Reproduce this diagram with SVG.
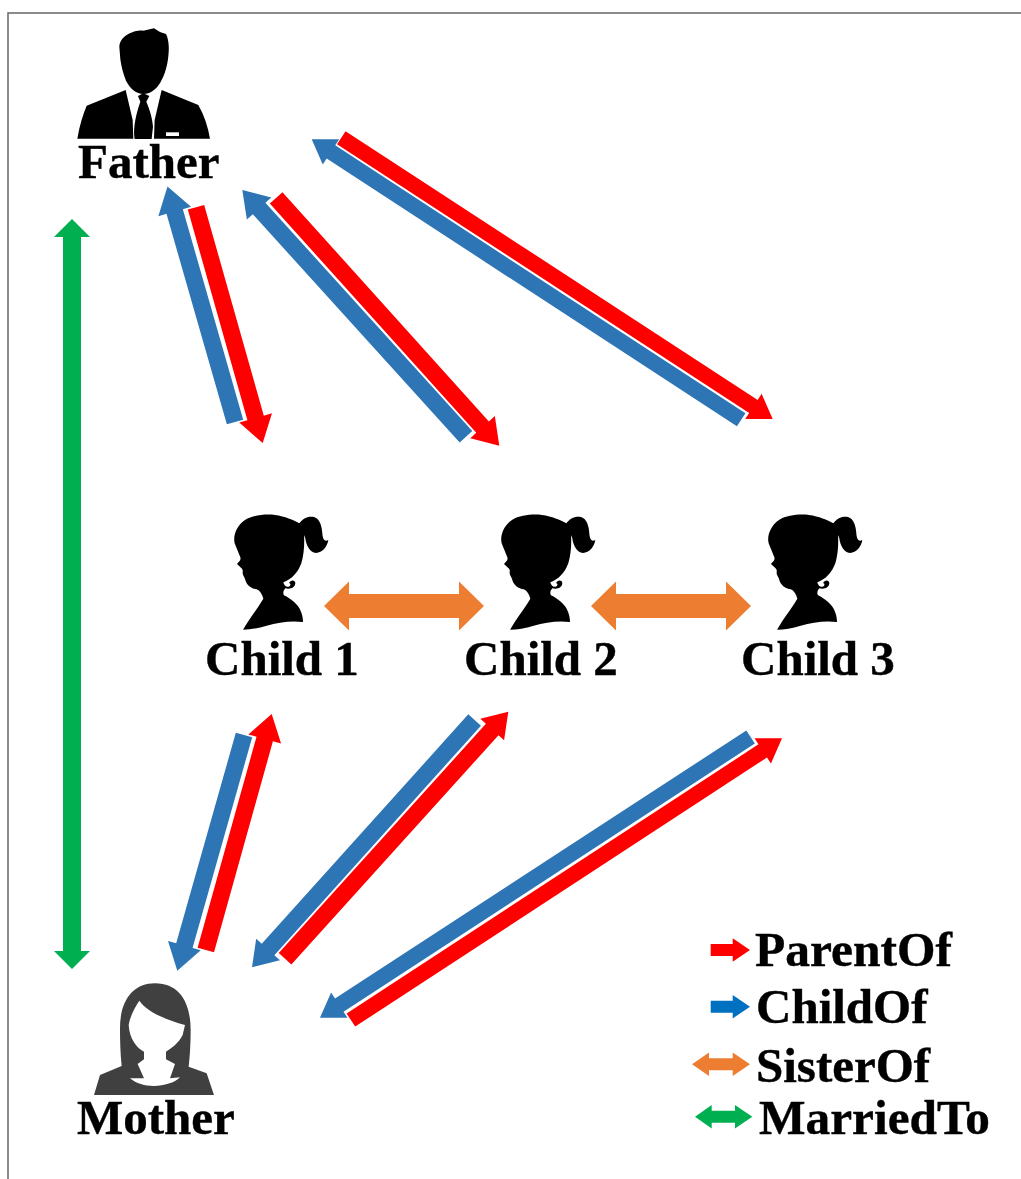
<svg xmlns="http://www.w3.org/2000/svg" xmlns:xlink="http://www.w3.org/1999/xlink" width="1021" height="1179" viewBox="0 0 1021 1179">
<style>
text{font-family:"Liberation Serif","Times New Roman",serif;font-weight:700;font-size:49px;fill:#000;stroke:#000;stroke-width:.4}
.red{fill:#f00}.blue{fill:#2e75b6}.orange{fill:#ed7d31}.green{fill:#00b050}.lblue{fill:#0070c0}
</style>
<defs>
<g id="girl">
<path fill="#000" d="M130,388 C145,360 170,330 190,296 C186,282 180,272 170,268 C155,266 140,256 136,240 C134,230 127,226 128,216 C130,208 124,204 120,200 L111,192 C117,185 124,180 121,172 C116,160 110,145 104,130 C98,105 112,75 135,60 C160,44 200,42 225,45 C255,49 280,60 298,70 C308,55 325,47 342,51 C360,56 366,80 367,100 C368,115 372,127 385,120 C382,140 367,158 348,159 C330,158 318,135 316,115 L312,105 C314,130 312,165 304,190 C294,218 275,238 250,247 C252,256 258,262 266,260 C274,258 272,248 267,250 C272,238 286,240 286,250 C285,264 270,269 256,265 C250,272 248,280 252,286 C272,296 296,314 303,335 C307,345 309,355 309,366 C270,361 235,368 200,377 C175,385 150,389 130,389 Z"/>
</g>
</defs>
<g id="frame"><path d="M8,1179 V13 H1021" fill="none" stroke="#666" stroke-width="1.5"/></g>
<g id="connectors">
<polygon class="blue" transform="translate(167.5,186.5) rotate(-106)" points="-245,-8.5 -26,-8.5 -26,-17 0,0 -26,17 -26,8.5 -245,8.5"/>
<polygon class="red" transform="translate(262.7,443) rotate(74.2)" points="-245,-8.5 -26,-8.5 -26,-17 0,0 -26,17 -26,8.5 -245,8.5"/>
<polygon class="blue" transform="translate(242.3,190) rotate(-132.2)" points="-333,-8.5 -25,-8.5 -25,-16.5 0,0 -25,16.5 -25,8.5 -333,8.5"/>
<polygon class="red" transform="translate(499.3,445.7) rotate(48)" points="-333.5,-8.5 -25,-8.5 -25,-16.5 0,0 -25,16.5 -25,8.5 -333.5,8.5"/>
<polygon class="blue" transform="translate(311.7,139.3) rotate(-146.85)" points="-513,-7.8 -23,-7.8 -23,-15 0,0 -23,15 -23,7.8 -513,7.8"/>
<polygon class="red" transform="translate(772.7,419) rotate(33.1)" points="-515,-7.8 -23,-7.8 -23,-15 0,0 -23,15 -23,7.8 -515,7.8"/>
<polygon class="red" transform="translate(271.7,714) rotate(-74.4)" points="-245,-8.5 -26,-8.5 -26,-17 0,0 -26,17 -26,8.5 -245,8.5"/>
<polygon class="blue" transform="translate(177.3,970.7) rotate(105.8)" points="-245,-8.5 -26,-8.5 -26,-17 0,0 -26,17 -26,8.5 -245,8.5"/>
<polygon class="red" transform="translate(508.3,711.7) rotate(-47.9)" points="-333,-8.5 -24,-8.5 -24,-16 0,0 -24,16 -24,8.5 -333,8.5"/>
<polygon class="blue" transform="translate(252,967.3) rotate(132)" points="-332.7,-8.5 -24,-8.5 -24,-16 0,0 -24,16 -24,8.5 -332.7,8.5"/>
<polygon class="red" transform="translate(782,738.3) rotate(-33.17)" points="-515,-7.8 -23,-7.8 -23,-15 0,0 -23,15 -23,7.8 -515,7.8"/>
<polygon class="blue" transform="translate(320,1017.7) rotate(146.9)" points="-514,-7.8 -23,-7.8 -23,-15 0,0 -23,15 -23,7.8 -514,7.8"/>
<polygon class="green" points="72,219 90,237 81,237 81,951 90,951 72,969 54,951 63,951 63,237 54,237"/>
<polygon class="orange" points="324,606 349,581.5 349,594 459,594 459,581.5 484,606 459,630.5 459,618 349,618 349,630.5"/>
<polygon class="orange" points="591,606 616,581.5 616,594 726,594 726,581.5 751,606 726,630.5 726,618 616,618 616,630.5"/>
</g>
<g id="father">
<g transform="translate(60,10) scale(.3333)">
<path fill="#000" d="M178,110 C180,78 220,60 250,62 L282,55 L300,66 L318,72 C328,92 328,120 324,148 C320,175 314,195 302,216 C290,238 270,252 250,252 C230,252 210,236 198,212 C190,192 184,170 181,148 Z"/>
<path fill="#000" d="M52,386 C58,350 68,315 80,287 L197,240 L218,330 L220,386 Z"/>
<path fill="#000" d="M305,240 L415,285 C432,315 444,350 450,386 L282,386 L284,330 Z"/>
<path fill="#000" d="M234,258 L250,250 L268,258 L259,275 C270,300 278,330 279,350 L275,387 L224,387 C220,365 222,330 241,275 Z"/>
<rect x="318" y="367" width="39" height="11" fill="#fff"/>
</g>
<text x="78" y="178">Father</text>
</g>
<g id="child1">
<use xlink:href="#girl" href="#girl" transform="translate(200,500) scale(.3333)"/>
<text x="205" y="675">Child 1</text>
</g>
<g id="child2">
<use xlink:href="#girl" href="#girl" transform="translate(467,500) scale(.3333)"/>
<text x="464" y="675">Child 2</text>
</g>
<g id="child3">
<use xlink:href="#girl" href="#girl" transform="translate(734,500) scale(.3333)"/>
<text x="741" y="675">Child 3</text>
</g>
<g id="mother">
<g transform="translate(70,970) scale(.3333)">
<path fill="#404040" d="M150,175 C150,90 190,40 255,40 C330,40 362,100 362,180 C362,220 360,260 356,290 L410,310 L432,375 L72,375 L90,315 L155,288 C151,250 150,210 150,175 Z"/>
<path fill="#fff" d="M208,92 C230,125 290,150 345,165 L338,195 C325,220 305,235 288,245 L288,268 L315,282 L300,325 L330,322 C300,352 220,360 180,325 L222,325 L203,282 L222,268 L222,245 C200,235 178,205 176,165 C180,140 195,110 208,92 Z"/>
</g>
<text x="77" y="1134">Mother</text>
</g>
<g id="legend">
<polygon class="red" points="710.7,944 732.7,944 732.7,938.3 750,950 732.7,961.7 732.7,956 710.7,956"/>
<text x="755" y="966" style="font-size:49.5px">ParentOf</text>
<polygon class="lblue" points="710.7,1000.7 732.7,1000.7 732.7,995 750,1006.7 732.7,1018.4 732.7,1012.7 710.7,1012.7"/>
<text x="756" y="1023">ChildOf</text>
<polygon class="orange" points="692,1064.3 709,1052.6 709,1058.3 732.7,1058.3 732.7,1052.6 750,1064.3 732.7,1076 732.7,1070.3 709,1070.3 709,1076"/>
<text x="756" y="1082">SisterOf</text>
<polygon class="green" points="695,1116.7 711.7,1105 711.7,1110.7 735,1110.7 735,1105 752.3,1116.7 735,1128.4 735,1122.7 711.7,1122.7 711.7,1128.4"/>
<text x="759" y="1134" style="font-size:49.3px">MarriedTo</text>
</g>
</svg>
